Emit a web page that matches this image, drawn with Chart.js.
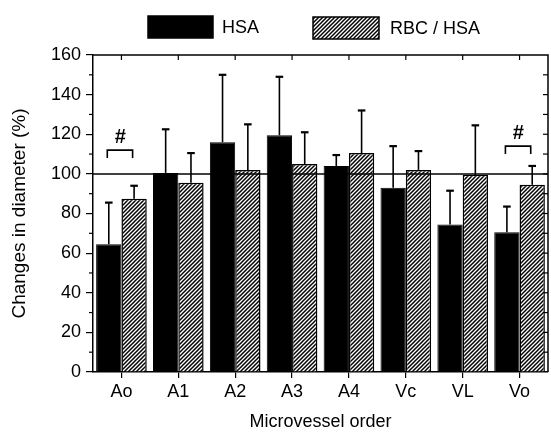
<!DOCTYPE html>
<html><head><meta charset="utf-8">
<script src="https://cdn.jsdelivr.net/npm/chart.js@4/dist/chart.umd.min.js"></script>
<style>html,body{margin:0;padding:0;background:#fff}#wrap{width:551px;height:434px}</style>
</head><body><div id="wrap"><canvas id="c" width="551" height="434"></canvas></div>
<script>
// ---- data ----
const categories = ['Ao', 'A1', 'A2', 'A3', 'A4', 'Vc', 'VL', 'Vo'];
const seriesNames = ['HSA', 'RBC / HSA'];
const hsaValues = [64.5, 100.5, 116, 119.5, 104, 93, 74.5, 70.5];
const hsaSD     = [21, 22, 34, 29.5, 5.5, 21, 17, 13];
const rbcValues = [87.5, 95.5, 102, 105, 110.5, 102, 99.5, 94.5];
const rbcSD     = [6.5, 15, 23, 16, 21.5, 9.5, 25, 9.5];
const yTickValues = [0, 20, 40, 60, 80, 100, 120, 140, 160];
const referenceValue = 100;
const sigCategories = ['Ao', 'Vo'];
const sigLevels = [112, 114];
const sigMark = '#';

const FONT = '"Liberation Sans", Arial, Helvetica, sans-serif';
Chart.defaults.font.family = FONT;
Chart.defaults.color = '#000';

function makeHatch() {
  const c = document.createElement('canvas');
  c.width = 4; c.height = 4;
  const g = c.getContext('2d');
  g.fillStyle = '#fff'; g.fillRect(0, 0, 4, 4);
  g.strokeStyle = '#000'; g.lineWidth = 1.5; g.lineCap = 'square';
  g.beginPath(); g.moveTo(-1, 5); g.lineTo(5, -1); g.stroke();
  g.beginPath(); g.moveTo(-1, 1); g.lineTo(1, -1); g.stroke();
  g.beginPath(); g.moveTo(3, 5); g.lineTo(5, 3); g.stroke();
  return g.createPattern(c, 'repeat');
}
const hatch = makeHatch();

const errors = [hsaSD, rbcSD];

const extras = {
  id: 'extras',
  afterDatasetsDraw(chart) {
    const ctx = chart.ctx;
    const ys = chart.scales.y, xs = chart.scales.x;
    const ca = chart.chartArea;
    ctx.save();
    ctx.strokeStyle = '#000';
    ctx.fillStyle = '#000';
    // error bars (upper only)
    chart.data.datasets.forEach((ds, i) => {
      const meta = chart.getDatasetMeta(i);
      meta.data.forEach((bar, j) => {
        const top = ys.getPixelForValue(ds.data[j] + errors[i][j]);
        ctx.lineWidth = 1.6;
        ctx.beginPath(); ctx.moveTo(bar.x, bar.y); ctx.lineTo(bar.x, top); ctx.stroke();
        ctx.lineWidth = 2.2;
        ctx.beginPath(); ctx.moveTo(bar.x - 3.8, top); ctx.lineTo(bar.x + 3.8, top); ctx.stroke();
      });
    });
    // reference line
    const ry = ys.getPixelForValue(referenceValue);
    ctx.lineWidth = 1.5;
    ctx.beginPath(); ctx.moveTo(ca.left, ry); ctx.lineTo(ca.right, ry); ctx.stroke();
    // significance brackets
    const m0 = chart.getDatasetMeta(0), m1 = chart.getDatasetMeta(1);
    sigCategories.forEach((cat, k) => {
      const j = categories.indexOf(cat);
      const x0 = m0.data[j].x - 1.5, x1 = m1.data[j].x - 1.5;
      const yt = ys.getPixelForValue(sigLevels[k]);
      const yb = ys.getPixelForValue(sigLevels[k] - 4);
      ctx.lineWidth = 1.6;
      ctx.beginPath(); ctx.moveTo(x0, yb); ctx.lineTo(x0, yt); ctx.lineTo(x1, yt); ctx.lineTo(x1, yb); ctx.stroke();
      ctx.font = 'italic bold 20px ' + FONT;
      ctx.textAlign = 'center'; ctx.textBaseline = 'middle';
      ctx.fillText(sigMark, (x0 + x1) / 2, ys.getPixelForValue(sigLevels[k] + 6.5));
    });
    // top & right frame with inward ticks
    ctx.lineWidth = 1.5;
    ctx.beginPath();
    ctx.moveTo(ca.left, ca.top); ctx.lineTo(ca.right, ca.top); ctx.lineTo(ca.right, ca.bottom);
    ctx.stroke();
    ctx.lineWidth = 1.2;
    categories.forEach((c, j) => {
      const x = xs.getPixelForValue(j);
      ctx.beginPath(); ctx.moveTo(x, ca.top); ctx.lineTo(x, ca.top + 5); ctx.stroke();
    });
    for (let v = ys.min + 10; v < ys.max; v += 10) {
      const y = ys.getPixelForValue(v);
      ctx.beginPath(); ctx.moveTo(ca.right, y); ctx.lineTo(ca.right - 5, y); ctx.stroke();
      if (v % 20 !== 0) {
        ctx.beginPath(); ctx.moveTo(ca.left, y); ctx.lineTo(ca.left - 4, y); ctx.stroke();
      }
    }
    // legend
    const items = [
      {x: 148, y: 16, w: 65, h: 22, fill: chart.data.datasets[0].backgroundColor, tx: 222, label: chart.data.datasets[0].label},
      {x: 313, y: 17, w: 66, h: 22, fill: chart.data.datasets[1].backgroundColor, tx: 390, label: chart.data.datasets[1].label}
    ];
    items.forEach(it => {
      ctx.fillStyle = it.fill;
      ctx.fillRect(it.x, it.y, it.w, it.h);
      ctx.lineWidth = 1.5;
      ctx.strokeStyle = '#000';
      ctx.strokeRect(it.x, it.y, it.w, it.h);
      ctx.fillStyle = '#000';
      ctx.font = '18px ' + FONT;
      ctx.textAlign = 'left'; ctx.textBaseline = 'middle';
      ctx.fillText(it.label, it.tx, it.y + it.h / 2 + 1);
    });
    ctx.restore();
  }
};

new Chart(document.getElementById('c'), {
  type: 'bar',
  data: {
    labels: categories,
    datasets: [
      {label: seriesNames[0], data: hsaValues, backgroundColor: '#000', borderColor: '#000', borderWidth: 1,
       categoryPercentage: 0.89, barPercentage: 1},
      {label: seriesNames[1], data: rbcValues, backgroundColor: hatch, borderColor: '#000', borderWidth: 1.5,
       categoryPercentage: 0.89, barPercentage: 1}
    ]
  },
  options: {
    responsive: false,
    animation: false,
    events: [],
    layout: {padding: {top: 55, right: 3, left: 0, bottom: 0}},
    plugins: {legend: {display: false}, tooltip: {enabled: false}},
    scales: {
      x: {
        afterFit(s) { s.height = 62; },
        grid: {offset: false, drawOnChartArea: false, tickLength: 6, color: '#000', lineWidth: 1.2},
        border: {color: '#000', width: 1.5},
        ticks: {font: {size: 18}, color: '#000', padding: 3, autoSkip: false, maxRotation: 0},
        title: {display: true, text: 'Microvessel order', font: {size: 18}, color: '#000', padding: {top: 0, bottom: 1}}
      },
      y: {
        min: 0, max: 160,
        afterFit(s) { s.width = 93; },
        afterBuildTicks(s) {
          const t = [];
          for (let v = 0; v <= 160; v += 10) t.push({value: v});
          s.ticks = t;
        },
        grid: {drawOnChartArea: false, tickLength: 7, lineWidth: 1.2,
               tickColor: (c) => (yTickValues.includes(c.tick && c.tick.value) ? '#000' : 'rgba(0,0,0,0)')},
        border: {color: '#000', width: 1.5},
        ticks: {font: {size: 18}, color: '#000', padding: 5, autoSkip: false,
                callback: (v) => (yTickValues.includes(v) ? String(v) : '')},
        title: {display: true, text: 'Changes in diameter (%)', font: {size: 19}, color: '#000', padding: {top: 8, bottom: 0}}
      }
    }
  },
  plugins: [extras]
});
</script>
</body></html>
